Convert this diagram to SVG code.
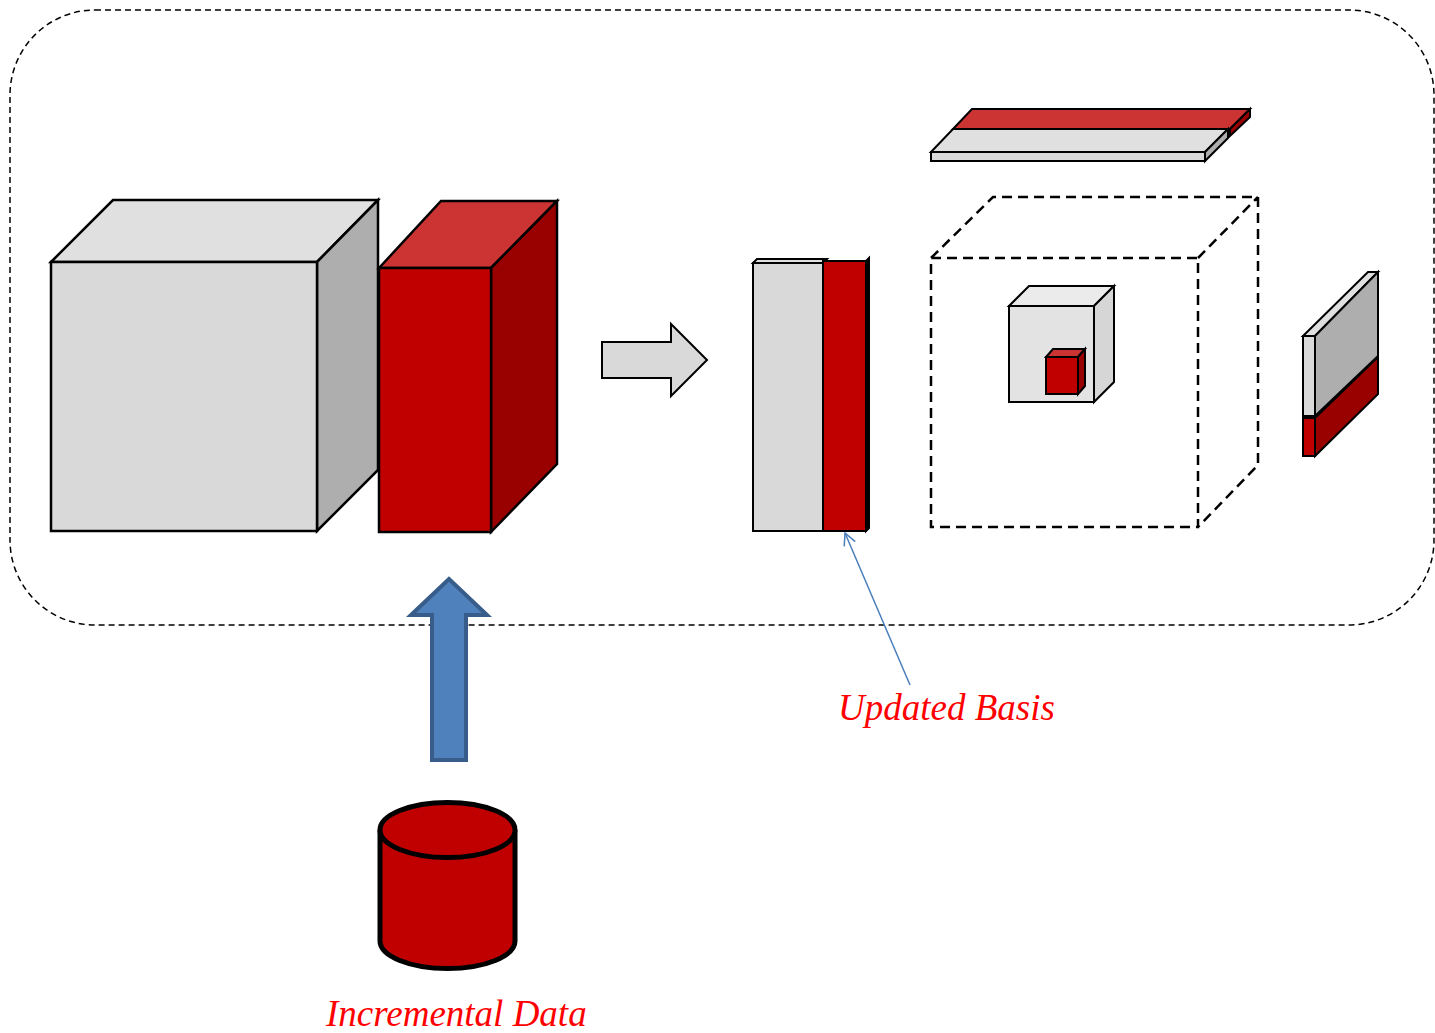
<svg xmlns="http://www.w3.org/2000/svg" width="1435" height="1033" viewBox="0 0 1435 1033">
  <style>
    .edge { stroke: #000; stroke-width: 2.5; stroke-linejoin: miter; }
    .thin { stroke: #000; stroke-width: 2; stroke-linejoin: miter; }
    .g-front { fill: #D9D9D9; }
    .g-top { fill: #E0E0E0; }
    .g-side { fill: #AEAEAE; }
    .r-front { fill: #C00000; }
    .r-top { fill: #CC3333; }
    .r-side { fill: #990000; }
    .dash { fill: none; stroke: #000; stroke-width: 2.5; stroke-dasharray: 10 6; }
    .label { font-family: "Liberation Serif", "Times New Roman", serif; font-style: italic; font-size: 37px; fill: #FF0000; }
  </style>
  <defs>
    <marker id="open-head" markerWidth="16" markerHeight="16" refX="14" refY="8" orient="auto" markerUnits="userSpaceOnUse">
      <path d="M2,2 L14,8 L2,14" fill="none" stroke="#4A7EBB" stroke-width="1.5"/>
    </marker>
  </defs>

  <!-- outer dashed frame -->
  <rect id="frame" x="10" y="10" width="1424" height="615" rx="85" ry="85" fill="none" stroke="#000" stroke-width="1.5" stroke-dasharray="6 4"/>

  <!-- large gray data cube -->
  <g id="data-cube" class="edge">
    <polygon class="g-top" points="51,262 113,200 378,200 317,262"/>
    <polygon class="g-side" points="317,262 378,200 378,470 317,531"/>
    <rect class="g-front" x="51" y="262" width="266" height="269"/>
  </g>

  <!-- red incremental block -->
  <g id="new-block" class="edge">
    <polygon class="r-top" points="379,268 441,201 557,201 491,268"/>
    <polygon class="r-side" points="491,268 557,201 557,464 491,532"/>
    <rect class="r-front" x="379" y="268" width="112" height="264"/>
  </g>

  <!-- gray block arrow -->
  <g id="step-arrow">
    <polygon points="602,342 671,342 671,324 707,360 671,396 671,378 602,378" fill="#D9D9D9" stroke="#000" stroke-width="2"/>
  </g>

  <!-- basis column -->
  <g id="basis" class="thin">
    <polygon class="g-top" points="753,263 757,259 827,259 823,263"/>
    <rect class="g-front" x="753" y="263" width="70" height="268"/>
    <polygon points="866,261 869,258 869,528 866,531" fill="#000"/>
    <rect class="r-front" x="823" y="261" width="43" height="270"/>
  </g>

  <!-- top slabs -->
  <g id="top-slab" class="thin">
    <polygon class="r-top" points="953,129 972,109 1250,109 1230,129"/>
    <polygon class="r-side" points="1230,129 1250,109 1250,117 1230,136"/>
    <polygon class="g-top" points="931,152 953,129 1228,129 1205,152"/>
    <polygon class="g-side" points="1205,152 1228,129 1228,138 1205,161"/>
    <rect class="g-front" x="931" y="152" width="274" height="9"/>
  </g>

  <!-- dashed core cube -->
  <g id="core-cube">
    <path class="dash" d="M931,258 L993,197 L1258,197 L1258,465 L1198,527 M1198,258 L1258,197 M931,258 L1198,258 L1198,527 L931,527 Z"/>
  </g>

  <!-- inner gray cube with red sub-cube -->
  <g id="inner-cube" class="thin">
    <polygon points="1009,306 1029,286 1114,286 1094,306" fill="#EBEBEB"/>
    <polygon points="1094,306 1114,286 1114,382 1094,402" fill="#D6D6D6"/>
    <rect x="1009" y="306" width="85" height="96" fill="#E3E3E3"/>
    <polygon class="r-top" points="1046,357 1053,349 1085,349 1078,357"/>
    <polygon class="r-side" points="1078,357 1085,349 1085,386 1078,394"/>
    <rect class="r-front" x="1046" y="357" width="32" height="37"/>
  </g>

  <!-- right side slabs -->
  <g id="side-slab" class="thin">
    <polygon class="r-side" points="1315,418 1378,357 1378,394 1315,456"/>
    <rect class="r-front" x="1303" y="418" width="12" height="38"/>
    <polygon class="g-top" points="1303,336 1368,272 1378,272 1315,336"/>
    <polygon class="g-side" points="1315,336 1378,272 1378,356 1315,416"/>
    <rect class="g-front" x="1303" y="336" width="12" height="80"/>
  </g>

  <!-- blue input arrow -->
  <g id="input-arrow">
    <polygon points="432,760 432,615 411,615 449,579 487,615 466,615 466,760" fill="#4F81BD" stroke="#385D8A" stroke-width="4" stroke-linejoin="miter"/>
  </g>

  <!-- incremental data store -->
  <g id="data-store" stroke="#000" stroke-width="5">
    <path d="M380,830 L380,941 A67.5,27.5 0 0 0 515,941 L515,830" fill="#C00000"/>
    <ellipse cx="447.5" cy="830" rx="67.5" ry="27.5" fill="#C00000"/>
  </g>

  <!-- connectors -->
  <g id="connectors">
    <line x1="910" y1="685" x2="845" y2="533" stroke="#4A7EBB" stroke-width="1.5" marker-end="url(#open-head)"/>
  </g>

  <!-- labels -->
  <g id="labels">
    <text class="label" x="838" y="720">Updated Basis</text>
    <text class="label" x="326" y="1026">Incremental Data</text>
  </g>
</svg>
